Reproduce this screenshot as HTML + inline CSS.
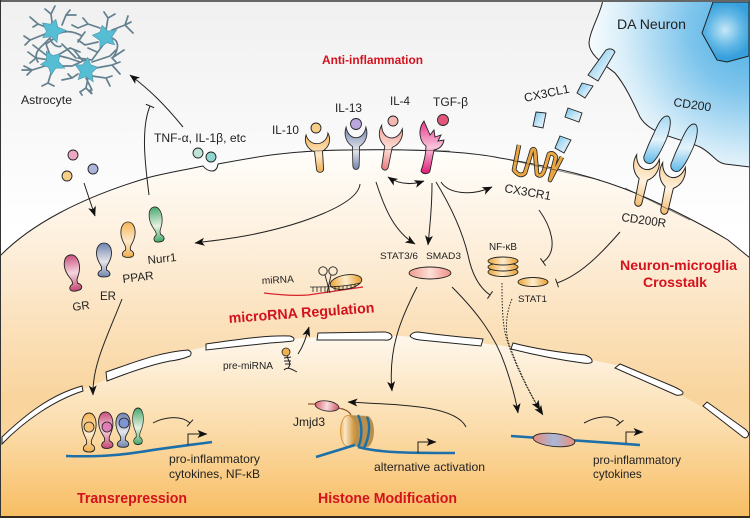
<!DOCTYPE html>
<html><head><meta charset="utf-8"><style>
html,body{margin:0;padding:0;background:#fff}
svg{display:block}
text{font-family:"Liberation Sans",sans-serif;fill:#222;font-size:12px}
.r{fill:#d4121e;font-weight:bold}
.l{fill:none;stroke:#222;stroke-width:1}
.a{marker-end:url(#ah)}
.t{marker-end:url(#tb)}
.w{fill:#fff;stroke:#222;stroke-width:1}
.p{fill:none;stroke:#64808f;stroke-width:1.7;stroke-linecap:round}
.b{fill:#55bdd4;stroke:#4d93a8;stroke-width:.6}
</style></head><body>
<svg width="750" height="518" viewBox="0 0 750 518" xmlns="http://www.w3.org/2000/svg">
<defs>
<marker id="ah" markerUnits="userSpaceOnUse" markerWidth="11" markerHeight="9" refX="9.5" refY="4" orient="auto-start-reverse" overflow="visible"><path d="M0,0 L10,4 L0,8 L2.5,4Z" fill="#111"/></marker>
<marker id="tb" markerUnits="userSpaceOnUse" markerWidth="2" markerHeight="10" refX="1" refY="4.5" orient="auto" overflow="visible"><path d="M1,0 V9" stroke="#222" stroke-width="1"/></marker>
<linearGradient id="bg" gradientUnits="userSpaceOnUse" x1="0" y1="0" x2="0" y2="230"><stop offset="0" stop-color="#f0f0f0"/><stop offset="1" stop-color="#fff"/></linearGradient>
<linearGradient id="cy" gradientUnits="userSpaceOnUse" x1="0" y1="150" x2="0" y2="400"><stop offset="0" stop-color="#fffefb"/><stop offset=".4" stop-color="#fdeeda"/><stop offset="1" stop-color="#f9d49c"/></linearGradient>
<linearGradient id="nu" gradientUnits="userSpaceOnUse" x1="0" y1="340" x2="0" y2="518"><stop offset="0" stop-color="#fef6ea"/><stop offset=".5" stop-color="#fbdcaa"/><stop offset="1" stop-color="#f8bd62"/></linearGradient>
<radialGradient id="da" gradientUnits="userSpaceOnUse" cx="750" cy="30" r="170"><stop offset="0" stop-color="#4aaee3"/><stop offset=".35" stop-color="#7cc4ec"/><stop offset=".75" stop-color="#d9eef9"/><stop offset="1" stop-color="#fff"/></radialGradient>
<radialGradient id="so" gradientUnits="userSpaceOnUse" cx="725" cy="30" r="28"><stop offset="0" stop-color="#c5e7f6"/><stop offset=".6" stop-color="#62b8e6"/><stop offset="1" stop-color="#37a0dc"/></radialGradient>
<linearGradient id="fr" x1="0" y1="0" x2="1" y2="1"><stop offset="0" stop-color="#6fc2ec"/><stop offset=".6" stop-color="#cfe9f7"/><stop offset="1" stop-color="#e8f5fb"/></linearGradient>
<linearGradient id="fc" x1="0" y1="0" x2="0" y2="1"><stop offset="0" stop-color="#a5d8f2"/><stop offset=".5" stop-color="#e3f3fb"/><stop offset="1" stop-color="#5fb8e8"/></linearGradient>
<linearGradient id="gY" x1="0" y1="0" x2="0" y2="1"><stop offset="0" stop-color="#f5b558"/><stop offset=".55" stop-color="#fdeacb"/><stop offset="1" stop-color="#f0ab4c"/></linearGradient>
<linearGradient id="gR" x1="0" y1="0" x2="0" y2="1"><stop offset="0" stop-color="#c94f7c"/><stop offset=".5" stop-color="#f6d6e0"/><stop offset="1" stop-color="#c2456f"/></linearGradient>
<linearGradient id="gB" x1="0" y1="0" x2="0" y2="1"><stop offset="0" stop-color="#6d82b0"/><stop offset=".55" stop-color="#e6e6ea"/><stop offset="1" stop-color="#6f84ae"/></linearGradient>
<linearGradient id="gG" x1="0" y1="0" x2="0" y2="1"><stop offset="0" stop-color="#49a86f"/><stop offset=".55" stop-color="#e6f2e2"/><stop offset="1" stop-color="#43a869"/></linearGradient>
<linearGradient id="gS" x1="0" y1="0" x2="0" y2="1"><stop offset="0" stop-color="#f09a94"/><stop offset=".5" stop-color="#fde2d8"/><stop offset="1" stop-color="#e9777c"/></linearGradient>
<linearGradient id="gT" x1="0" y1="0" x2="0" y2="1"><stop offset="0" stop-color="#e7368a"/><stop offset=".5" stop-color="#f9c4dc"/><stop offset="1" stop-color="#df1a76"/></linearGradient>
<linearGradient id="gC" x1="0" y1="0" x2="0" y2="1"><stop offset="0" stop-color="#f8cf96"/><stop offset=".5" stop-color="#fff2e0"/><stop offset="1" stop-color="#f3bb6c"/></linearGradient>
<linearGradient id="gO" x1="0" y1="0" x2="1" y2="0"><stop offset="0" stop-color="#f09a8e"/><stop offset=".5" stop-color="#fde0d8"/><stop offset="1" stop-color="#ee8d85"/></linearGradient>
<linearGradient id="gD" x1="0" y1="0" x2="1" y2="0"><stop offset="0" stop-color="#eaa535"/><stop offset=".5" stop-color="#fdeccd"/><stop offset="1" stop-color="#e79d2d"/></linearGradient>
<linearGradient id="gJ" x1="0" y1="0" x2="1" y2="0"><stop offset="0" stop-color="#d8606d"/><stop offset=".5" stop-color="#f8dcdc"/><stop offset="1" stop-color="#d2566a"/></linearGradient>
<linearGradient id="gM" x1="0" y1="0" x2="1" y2="0"><stop offset="0" stop-color="#e88a7a"/><stop offset=".5" stop-color="#a8b8d8"/><stop offset="1" stop-color="#ec8f7a"/></linearGradient>
<linearGradient id="gN" x1="0" y1="0" x2="1" y2="0"><stop offset="0" stop-color="#e9b562"/><stop offset=".3" stop-color="#fbe8c8"/><stop offset="1" stop-color="#c98a2e"/></linearGradient>
<path id="nr" d="M0,0 C-5,0 -7.5,5 -7.5,11 C-7.5,19 -3,23 -2.5,26 L-2.5,29 C-5,30 -6,32 -6,33 C-6,36 -3,36.5 0,36.5 C3,36.5 6,36 6,33 C6,32 5,30 2.5,29 L2.5,26 C3,23 7.5,19 7.5,11 C7.5,5 5,0 0,0Z" stroke="#222" stroke-width=".9"/>
<path id="cup" d="M-11,0 C-14,8 -11,16 -4,20 L-3.5,40 C-3.5,45 3.5,45 3.5,40 L4,20 C11,16 14,8 11,0 C10,6 6,11 0,11 C-6,11 -10,6 -11,0Z" stroke="#222" stroke-width=".9"/>
<path id="star" d="M0,-11 L4,-4 L13,-3 L6,3 L7,11 L0,7 L-8,10 L-6,3 L-12,-4 L-4,-5Z"/>
</defs>

<rect width="750" height="518" fill="url(#bg)"/>
<path d="M603,0 C600,15 590,30 589,43 C589,55 605,65 615,73 C625,85 632,100 640,117 C650,135 680,138 700,147 C712,153 715,162 725,164 L750,167 V0Z" fill="url(#da)" stroke="#222" stroke-width="1"/>
<path d="M713,2 L702,33 L717,60 L727,62 L749,56 V2Z" fill="url(#so)" stroke="#222" stroke-width="1" stroke-linejoin="round"/>

<path d="M0,256 C30,225 80,198 147,178 C165,173 185,170 203,166 Q207,171 212,171 Q217,171 218,164 C250,158 290,150 350,150 C420,149 470,152 500,158 C560,168 600,178 640,195 C670,208 705,226 728,240 L750,258 V518 H0Z" fill="url(#cy)" stroke="#222" stroke-width="1"/>
<path d="M0,444 C25,420 50,398 83,389 C130,370 160,355 206,347 C250,341 320,335 400,336 C470,340 560,352 620,366 C660,382 710,410 750,436 V518 H0Z" fill="url(#nu)"/>

<!-- nuclear envelope -->
<path class="w" d="M2,437 C25,415 50,395 82,386 L83,391 C55,400 25,420 2,444Z"/>
<path class="w" d="M106,372 C135,362 160,352 188,350 Q193,352 190,356 Q180,360 170,361 C150,365 130,372 107,381Z"/>
<path class="w" d="M206,344 C235,340 265,335 290,336 Q296,338 293,341 Q285,342 270,343 C250,345 225,348 206,350Z"/>
<path class="w" d="M318,333 L385,332 Q392,333 392,337 Q390,341 384,340 L317,340Z"/>
<path class="w" d="M410,336 Q412,332 418,332 C440,335 460,337 483,339 L481,346 C460,344 440,342 420,340 Q412,339 410,336Z"/>
<path class="w" d="M513,343 C540,350 565,353 585,355 Q593,358 592,362 Q590,364 583,363 C560,360 535,355 511,349Z"/>
<path class="w" d="M620,364 L670,385 Q684,391 683,393 Q682,396 676,395 L615,368Z"/>
<path class="w" d="M707,402 L745,429 Q750,433 748,436 Q746,439 743,437 L703,406Z"/>

<!-- astrocytes -->
<g>
<path class="p" d="M53,30 L51,14 L45,9 M51,14 L55,6 M53,30 L38,24 L30,17 M38,24 L33,27 M45,34 L30,40 L24,36 M30,40 L25,45 M62,25 L66,15 L76,15 M66,15 L70,10 M60,33 C68,30 75,32 82,36 L78,42 M82,36 L85,32 M50,38 L43,45 C37,50 34,56 38,62 M50,38 C52,45 58,48 61,46 M62,44 L76,58"/>
<path class="p" d="M105,36 L108,18 L115,14 M108,18 L104,12 M112,30 L125,25 L128,16 M125,25 L133,33 M125,25 L131,22 M112,38 C122,42 116,55 112,58 L116,62 M112,58 L124,50 M100,28 L88,24 L78,28 L72,25 M88,24 L83,18 M98,42 L85,45 L78,40 M103,45 L92,60 L78,58 M97,52 L88,48"/>
<path class="p" d="M50,60 L36,58 L28,52 M36,58 L30,63 M45,66 L32,70 L22,70 M32,70 L24,66 M32,70 L27,75 M52,70 L48,83 L42,86 M48,83 L54,86 M58,55 L70,48 L80,52 M58,66 L72,66 L85,60 M46,55 L33,45 M50,55 L46,44 L55,38"/>
<path class="p" d="M92,62 L110,56 L116,50 M96,68 L112,65 L120,74 M112,65 L120,62 M88,78 L86,88 L80,92 L82,95 M86,88 L92,94 L90,90 M92,76 L106,78 L110,86 M106,78 L112,76 M78,74 L72,78 L62,80 M72,78 L68,74 M80,62 L68,58 L60,56 M82,60 L74,50 M86,78 L92,90"/>
<use href="#star" class="b" transform="translate(53,30) rotate(15)"/>
<use href="#star" class="b" transform="translate(105,36) rotate(-15)"/>
<use href="#star" class="b" transform="translate(53,62) rotate(40)"/>
<use href="#star" class="b" transform="translate(87,70) rotate(75)"/>
</g>

<!-- ligands -->
<g stroke="#222" stroke-width=".9">
<circle cx="73" cy="155" r="5" fill="#eaa8c4"/>
<circle cx="93" cy="169" r="5" fill="#a9b5da"/>
<circle cx="67" cy="176" r="5" fill="#f7cd8a"/>
<circle cx="198" cy="153" r="5" fill="#bfe3d8"/>
<circle cx="211" cy="157" r="5" fill="#8fd4cf"/>
<circle cx="316" cy="128" r="5" fill="#f7cd8a"/>
<circle cx="356" cy="124" r="5.5" fill="#b9a7de"/>
<circle cx="393" cy="121" r="5" fill="#f4b8b0"/>
<circle cx="443" cy="120" r="5.5" fill="#e2587a"/>
</g>

<!-- surface receptors -->
<use href="#cup" transform="translate(317,134) rotate(-5) scale(1,.88)" fill="url(#gY)"/>
<use href="#cup" transform="translate(356,127) scale(.9,.97)" fill="url(#gB)"/>
<use href="#cup" transform="translate(392,127) rotate(10) scale(.95,1)" fill="url(#gS)"/>
<path d="M424,121 C417,130 420,142 426,146 C426,155 423,165 421,171 C423,175 429,174 430,171 L434,150 C439,149 443,146 444,140 L438,141 L441,135 L435,137 L434,130 L430,135 C428,130 426,126 424,121Z" fill="url(#gT)" stroke="#222" stroke-width=".9"/>

<!-- CD200 / CD200R -->
<use href="#cup" transform="translate(648,157) rotate(12) scale(1.05,1.15)" fill="url(#gC)"/>
<use href="#cup" transform="translate(674,165) rotate(12) scale(1.05,1.15)" fill="url(#gC)"/>
<path d="M667,116 C672,116 671,128 666,140 C661,151 657,159 652,163 C647,165 643,161 644,156 C647,148 650,141 654,133 C658,124 662,116 667,116Z" fill="url(#fc)" stroke="#222" stroke-width=".9"/>
<path d="M694,124 C699,124 698,136 693,148 C688,159 684,167 679,171 C674,173 670,169 671,164 C674,156 677,149 681,141 C685,132 689,124 694,124Z" fill="url(#fc)" stroke="#222" stroke-width=".9"/>

<!-- CX3CL1 fragments -->
<g fill="url(#fr)" stroke="#222" stroke-width=".9">
<path d="M606,50 Q612,47 615,52 L598,81 L588,75Z"/>
<path d="M582,83 L593,86 L585,98 L577,93Z"/>
<path d="M568,108 L582,113 L579,122 L565,117Z"/>
<path d="M536,112 L546,113 L543,128 L533,126Z"/>
<path d="M560,136 L571,140 L564,153 L555,148Z"/>
</g>
<!-- CX3CR1 -->
<path d="M519,145 L514,170 Q520,178 525,173 L532,150 Q534,148 535,151 L537,174 Q541,178 544,171 L549,154 Q553,152 556,157 L550,180 L562,157" fill="none" stroke="#222" stroke-width="4.600" stroke-linejoin="round"/>
<path d="M519,145 L514,170 Q520,178 525,173 L532,150 Q534,148 535,151 L537,174 Q541,178 544,171 L549,154 Q553,152 556,157 L550,180 L562,157" fill="none" stroke="#e9a643" stroke-width="3" stroke-linejoin="round"/>

<!-- membrane over receptors -->
<path d="M300,152 C340,149 400,149 450,151 M510,160 L600,180 M625,188 L690,220" fill="none" stroke="#222" stroke-width=".7" opacity=".6"/>

<!-- nuclear receptors -->
<use href="#nr" transform="translate(70,255) rotate(-10)" fill="url(#gR)"/>
<use href="#nr" transform="translate(104,243) scale(1,.93)" fill="url(#gB)"/>
<use href="#nr" transform="translate(128,222) scale(.95,.97)" fill="url(#gY)"/>
<use href="#nr" transform="translate(154,207) rotate(-9) scale(.85,.97)" fill="url(#gG)"/>

<!-- connectors -->
<path class="l a" d="M183,127 C165,105 150,90 130,75"/>
<path class="l t" d="M149,195 C146,170 140,130 150,106"/>
<path class="l a" d="M84,183 L95,216"/>
<path class="l a" d="M360,184 C358,205 300,225 250,235 C230,239 210,241 195,243"/>
<path class="l a" d="M376,182 C385,210 395,232 415,244"/>
<path class="l a" marker-start="url(#ah)" d="M388,177 C400,185 412,185 424,181"/>
<path class="l a" d="M432,183 C432,205 430,225 428,245"/>
<path class="l t" d="M436,182 C450,205 462,230 468,255 C472,275 480,288 490,295"/>
<path class="l a" d="M441,182 C448,193 470,197 492,187"/>
<path class="l t" d="M539,210 C550,225 560,250 543,262"/>
<path class="l t" d="M620,232 C600,255 580,275 557,283"/>
<path class="l a" d="M417,287 C400,320 388,350 392,391"/>
<path class="l a" d="M452,287 C475,310 495,335 505,365 C512,385 516,400 518,413"/>
<path class="a" d="M502,283 C502,300 502,325 507,340 C515,365 530,395 543,415" fill="none" stroke="#222" stroke-width="1" stroke-dasharray="1.5 1.5"/>
<path class="a" d="M512,299 C505,315 505,335 510,347 C518,368 528,390 540,410" fill="none" stroke="#222" stroke-width="1" stroke-dasharray="1.5 1.5"/>
<path class="l a" d="M298,354 C304,345 306,337 309,327"/>
<path class="l a" d="M122,299 C108,335 92,365 93,395"/>

<!-- STAT / NF-kB -->
<ellipse cx="430" cy="273" rx="21" ry="6" fill="url(#gO)" stroke="#222" stroke-width=".9"/>
<g stroke="#222" stroke-width=".9" fill="url(#gD)">
<ellipse cx="503" cy="272" rx="15" ry="4.5"/>
<ellipse cx="503" cy="267" rx="15" ry="4"/>
<ellipse cx="503" cy="261" rx="15" ry="4"/>
<ellipse cx="533" cy="282" rx="15" ry="4.5"/>
</g>

<!-- miRNA -->
<path d="M264,293 C280,295 295,296 308,295 L363,287" fill="none" stroke="#d8222c" stroke-width="1.3"/>
<ellipse cx="346" cy="282" rx="16" ry="7" transform="rotate(-10 346 282)" fill="url(#gD)" stroke="#222" stroke-width=".9"/>
<path d="M310,287 C325,287 345,287 360,283 M313,287 V292 M317,287 V292 M321,287 V292 M325,287 V292 M329,287 V292 M335,286 V291 M339,286 V291 M343,286 V290 M347,285 V289 M351,285 V289 M355,284 V288" fill="none" stroke="#222" stroke-width=".8"/>
<circle cx="323" cy="271" r="4.2" fill="none" stroke="#222" stroke-width=".9"/>
<circle cx="333" cy="271" r="4.2" fill="none" stroke="#222" stroke-width=".9"/>
<path d="M325,275 L330,293 M331,275 L327,293" fill="none" stroke="#222" stroke-width=".9"/>
<path d="M287,356 C288,360 292,364 288,368 M284,370 C287,367 290,368 297,372 M284,358 L291,357 M284,361 L291,361 M285,364 L291,364" fill="none" stroke="#222" stroke-width="1"/>
<circle cx="286" cy="352" r="4" fill="#f0b04e" stroke="#222" stroke-width=".8"/>

<!-- Transrepression -->
<path d="M66,456 C100,457 120,455 140,452 C165,448 190,445 212,442" fill="none" stroke="#1c6fa8" stroke-width="2.6"/>
<use href="#nr" transform="translate(89,413) scale(.95,1.07)" fill="url(#gY)"/>
<use href="#nr" transform="translate(105,412) rotate(-4) scale(.95,1)" fill="url(#gR)"/>
<use href="#nr" transform="translate(123,413) scale(.95,.94)" fill="url(#gB)"/>
<use href="#nr" transform="translate(138,408) scale(.72,1)" fill="url(#gG)"/>
<g stroke="#222" stroke-width=".8">
<circle cx="89" cy="427" r="5" fill="#f7c374"/>
<circle cx="107" cy="427" r="5" fill="#e07fb5"/>
<circle cx="124" cy="423" r="5" fill="#7f95d2"/>
</g>
<path class="l t" d="M153,423 C162,418 180,414 190,423"/>
<path class="l a" d="M188,445 V434 H207"/>

<!-- Histone -->
<path d="M348,415 L368,416 C376,420 376,442 368,447 L348,446Z" fill="#b98f4d"/>
<ellipse cx="348" cy="431" rx="7.5" ry="15.5" fill="url(#gN)" stroke="#d79a3a" stroke-width="1"/>
<path d="M316,457 L355,445" fill="none" stroke="#1c6fa8" stroke-width="2.6"/>
<path d="M358,415 C363,425 362,440 358,447 M367,417 C371,425 369,438 364,448" fill="none" stroke="#1c6fa8" stroke-width="2.4"/>
<path d="M358,447 C380,453 410,453 455,453" fill="none" stroke="#1c6fa8" stroke-width="2.6"/>
<path d="M308,404 L318,404 M338,408 C345,409 349,411 351,415" fill="none" stroke="#8d5a32" stroke-width="1.3"/>
<ellipse cx="327" cy="406" rx="12" ry="5" transform="rotate(8 327 406)" fill="url(#gJ)" stroke="#222" stroke-width=".8"/>
<path class="l a" d="M466,427 C455,405 400,405 348,402"/>
<path class="l a" d="M418,453 V442 H436"/>

<!-- Right gene -->
<path d="M511,436 L640,445" fill="none" stroke="#1c6fa8" stroke-width="2.6"/>
<ellipse cx="554" cy="440" rx="21" ry="6.5" transform="rotate(6 554 440)" fill="url(#gM)" stroke="#222" stroke-width=".9"/>
<path class="l t" d="M584,423 C595,417 612,413 620,423"/>
<path class="l a" d="M626,443 V432 H643"/>

<!-- labels -->
<text x="21" y="104" textLength="51" lengthAdjust="spacingAndGlyphs">Astrocyte</text>
<text x="154" y="142" style="font-size:11.7px" textLength="92" lengthAdjust="spacingAndGlyphs">TNF-α, IL-1β, etc</text>
<text x="272" y="134" textLength="27" lengthAdjust="spacingAndGlyphs">IL-10</text>
<text x="335" y="112" textLength="27" lengthAdjust="spacingAndGlyphs">IL-13</text>
<text x="390" y="105" textLength="20" lengthAdjust="spacingAndGlyphs">IL-4</text>
<text x="433" y="106" textLength="35" lengthAdjust="spacingAndGlyphs">TGF-β</text>
<text x="617" y="29" style="font-size:14px" textLength="69" lengthAdjust="spacingAndGlyphs">DA Neuron</text>
<text transform="translate(525,102) rotate(-12)" textLength="46" lengthAdjust="spacingAndGlyphs">CX3CL1</text>
<text transform="translate(673,106) rotate(8)" textLength="38" lengthAdjust="spacingAndGlyphs">CD200</text>
<text transform="translate(504,192) rotate(10)" textLength="47" lengthAdjust="spacingAndGlyphs">CX3CR1</text>
<text transform="translate(621,221) rotate(8)" textLength="45" lengthAdjust="spacingAndGlyphs">CD200R</text>
<text x="380" y="259" style="font-size:9.6px" textLength="38" lengthAdjust="spacingAndGlyphs">STAT3/6</text>
<text x="426" y="259" style="font-size:9.6px" textLength="35" lengthAdjust="spacingAndGlyphs">SMAD3</text>
<text x="489" y="250" style="font-size:10px" textLength="28" lengthAdjust="spacingAndGlyphs">NF-κB</text>
<text x="518" y="302" style="font-size:9.5px" textLength="29" lengthAdjust="spacingAndGlyphs">STAT1</text>
<text transform="translate(73,311) rotate(-8)" style="font-size:11.5px">GR</text>
<text x="100" y="300" style="font-size:11.5px">ER</text>
<text transform="translate(123,283) rotate(-7)" style="font-size:11.8px">PPAR</text>
<text transform="translate(148,264) rotate(-6)" style="font-size:11.6px">Nurr1</text>
<text transform="translate(262,284) rotate(-3)" style="font-size:10px" textLength="32" lengthAdjust="spacingAndGlyphs">miRNA</text>
<text x="223" y="369" style="font-size:10px" textLength="50" lengthAdjust="spacingAndGlyphs">pre-miRNA</text>
<text x="293" y="426" textLength="32" lengthAdjust="spacingAndGlyphs">Jmjd3</text>
<text x="169" y="463" textLength="91" lengthAdjust="spacingAndGlyphs">pro-inflammatory</text>
<text x="169" y="478" textLength="91" lengthAdjust="spacingAndGlyphs">cytokines, NF-κB</text>
<text x="374" y="471" textLength="111" lengthAdjust="spacingAndGlyphs">alternative activation</text>
<text x="593" y="464" style="font-size:11.7px" textLength="88" lengthAdjust="spacingAndGlyphs">pro-inflammatory</text>
<text x="593" y="478" style="font-size:11.7px">cytokines</text>

<text class="r" x="322" y="64" style="font-size:12px" textLength="101" lengthAdjust="spacingAndGlyphs">Anti-inflammation</text>
<text class="r" x="620" y="270" style="font-size:14px" textLength="117" lengthAdjust="spacingAndGlyphs">Neuron-microglia</text>
<text class="r" x="643" y="287" style="font-size:14px" textLength="64" lengthAdjust="spacingAndGlyphs">Crosstalk</text>
<text class="r" transform="translate(229,323) rotate(-4.2)" style="font-size:14.4px" textLength="146" lengthAdjust="spacingAndGlyphs">microRNA Regulation</text>
<text class="r" x="77" y="503" style="font-size:14.7px" textLength="110" lengthAdjust="spacingAndGlyphs">Transrepression</text>
<text class="r" x="318" y="503" style="font-size:14.7px" textLength="139" lengthAdjust="spacingAndGlyphs">Histone Modification</text>

<!-- frame -->
<rect x="0" y="0" width="750" height="2" fill="#666"/>
<rect x="0" y="0" width="1" height="518" fill="#333"/>
<rect x="749" y="0" width="1" height="518" fill="#555"/>
<rect x="0" y="516" width="750" height="2" fill="#332a1c"/>
</svg>
</body></html>
